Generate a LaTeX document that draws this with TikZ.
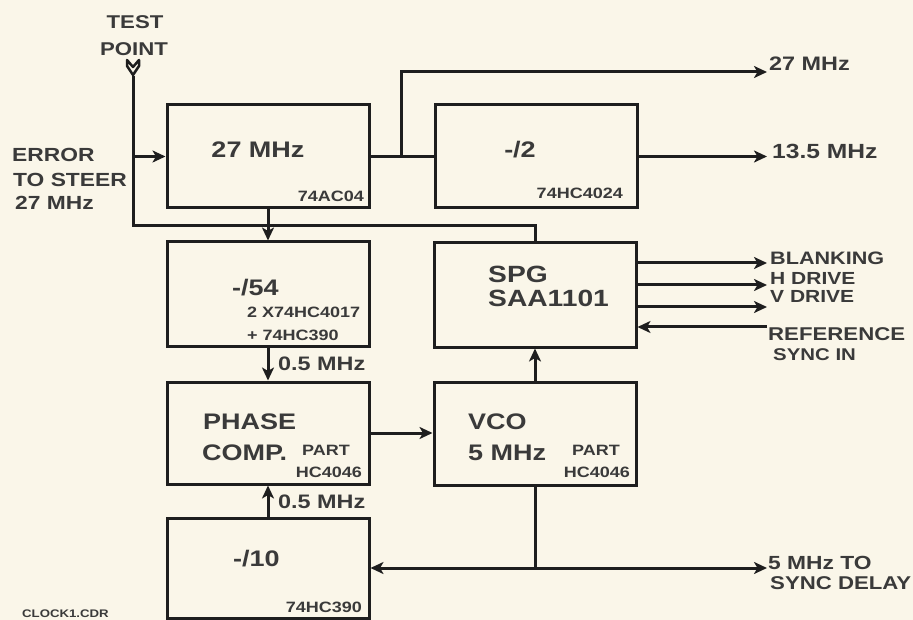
\documentclass[tikz,border=0pt]{standalone}
\usepackage{fontspec}
\setmainfont{Liberation Sans}[FakeStretch=1.2]
\usetikzlibrary{arrows.meta}
\definecolor{bg}{HTML}{FAF6E9}
\definecolor{ln}{HTML}{1E1E1E}
\definecolor{tx}{HTML}{3A3A3A}
\newcommand\fsz[1]{\fontsize{#1}{#1}\selectfont}
\begin{document}
\begin{tikzpicture}[x=1pt,y=-1pt,
  blk/.style={draw=ln, line width=3pt, minimum width=202pt, inner sep=0pt},
  wire/.style={draw=ln, line width=3pt},
  arr/.style={wire, -{Stealth[length=13pt,width=12pt,inset=3.5pt]}},
  lbl/.style={text=tx, inner sep=0pt, anchor=west},
  big/.style={lbl, font=\bfseries\fsz{22.5}},
  spgt/.style={lbl, font=\bfseries\fsz{23.5}},
  part/.style={lbl, font=\bfseries\fsz{15}},
  side/.style={lbl, font=\bfseries\fsz{19}},
  outl/.style={lbl, font=\bfseries\fsz{18}},
]
\fill[bg] (0,0) rectangle (913,620);
\useasboundingbox (0,0) rectangle (913,620);

% boxes
\node[blk, minimum height=103pt] (osc) at (268,156.5) {};
\node[blk, minimum height=103pt] (div2) at (536,156.5) {};
\node[blk, minimum height=104pt] (d54) at (268,294) {};
\node[blk, minimum height=104pt] (spg) at (535,295) {};
\node[blk, minimum height=102pt] (pc) at (268,433) {};
\node[blk, minimum height=103pt] (vco) at (535,433.5) {};
\node[blk, minimum height=100pt] (d10) at (268,568) {};

% test point
\coordinate (tp) at (133,76);
\coordinate (tpb) at (133,226);
\draw[ln, line width=2.5pt, line join=round] (127,60) -- (127,66) -- (133,75) -- (139,66) -- (139,60) -- (133,67) -- cycle;
\draw[wire] (tp) -- (tpb) -| (spg.north);
\draw[arr] (tp |- osc.west) -- (osc.west);

% 27 MHz outputs
\coordinate (j1) at (401,156.5);
\coordinate (o27) at (767,72);
\coordinate (o135) at (767,156.5);
\draw[wire] (osc.east) -- (div2.west);
\draw[arr] (j1) |- (o27);
\draw[arr] (div2.east) -- (o135);
\draw[arr] (osc.south) -- (d54.north);

% SPG outputs / input
\coordinate (ob) at (767,263);
\coordinate (oh) at (767,285);
\coordinate (ov) at (767,307);
\coordinate (ref) at (767,327);
\draw[arr] (spg.east |- ob) -- (ob);
\draw[arr] (spg.east |- oh) -- (oh);
\draw[arr] (spg.east |- ov) -- (ov);
\draw[arr] (ref) -- (spg.east |- ref);

% loop
\draw[arr] (d54.south) -- (pc.north);
\draw[arr] (pc.east) -- (pc.east -| vco.west);
\draw[arr] (vco.north) -- (spg.south);
\draw[arr] (d10.north) -- (pc.south);
\coordinate (j2) at (535,568);
\coordinate (o5) at (767,568);
\draw[wire] (vco.south) -- (j2);
\draw[arr] (j2) -- (d10.east);
\draw[arr] (j2) -- (o5);

% texts
\node[side, font=\bfseries\fsz{18.5}, anchor=center] (t1) at (135,22) {TEST};
\node[side, font=\bfseries\fsz{18.5}, anchor=center] (t2) at (134,49) {POINT};
\node[side] (e1) at (12,155) {ERROR};
\node[side] (e2) at (13,180) {TO STEER};
\node[side] (e3) at (15,203) {27 MHz};

\node[big, anchor=center] (oscA) at (258,150) {27 MHz};
\node[part, anchor=east] (oscB) at (364,196) {74AC04};
\node[big, anchor=center] (div2A) at (520,150) {-/2};
\node[part, anchor=east] (div2B) at (623,193) {74HC4024};

\node[big] (d54A) at (232,288) {-/54};
\node[part] (d54B) at (247,312) {2 X74HC4017};
\node[part] (d54C) at (247,335) {+ 74HC390};
\node[side, font=\bfseries\fsz{19.5}] (f1) at (278,364) {0.5 MHz};

\node[spgt] (spgA) at (488,274) {SPG};
\node[spgt] (spgB) at (488,298) {SAA1101};

\node[big] (pcA) at (203,422) {PHASE};
\node[big] (pcB) at (202,453) {COMP.};
\node[part] (pcC) at (302,450) {PART};
\node[part, anchor=east] (pcD) at (362,472) {HC4046};
\node[side, font=\bfseries\fsz{19.5}] (f2) at (278,502) {0.5 MHz};

\node[big] (d10A) at (233,559) {-/10};
\node[part, anchor=east] (d10B) at (362,607) {74HC390};
\node[lbl, font=\bfseries\fsz{11}] (cdr) at (22,614) {CLOCK1.CDR};

\node[big] (vcoA) at (468,422) {VCO};
\node[big] (vcoB) at (468,453) {5 MHz};
\node[part] (vcoC) at (572,450) {PART};
\node[part, anchor=east] (vcoD) at (630,472) {HC4046};

\node[side, font=\bfseries\fsz{19.5}] (r1) at (769,64) {27 MHz};
\node[side, font=\bfseries\fsz{20.5}] (r2) at (772,151) {13.5 MHz};
\node[outl] (r3) at (770,258) {BLANKING};
\node[outl, font=\bfseries\fsz{17.5}] (r4) at (770,278) {H DRIVE};
\node[outl, font=\bfseries\fsz{17.5}] (r5) at (770,296) {V DRIVE};
\node[outl, font=\bfseries\fsz{18.5}] (r6) at (768,334) {REFERENCE};
\node[outl, font=\bfseries\fsz{17}] (r7) at (773,355) {SYNC IN};
\node[side] (r8) at (768,563) {5 MHz TO};
\node[side, font=\bfseries\fsz{18.5}] (r9) at (770,583) {SYNC DELAY};
\end{tikzpicture}
\end{document}
